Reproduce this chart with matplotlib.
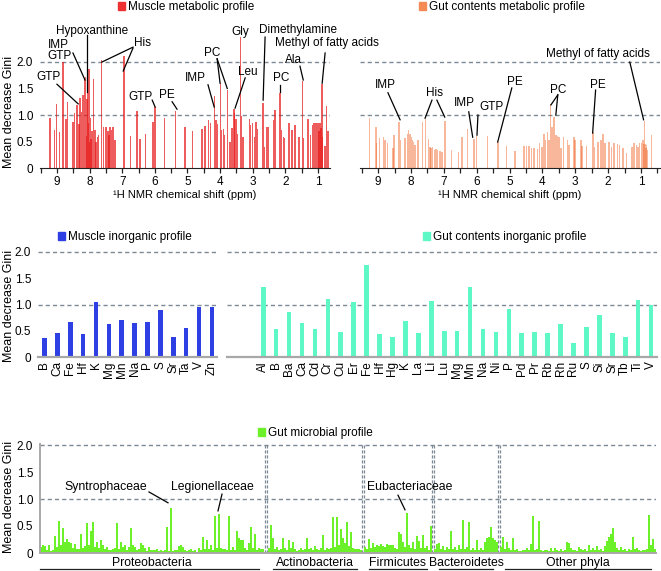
import numpy as np
import matplotlib
matplotlib.use('Agg')
from matplotlib import pyplot as plt
from matplotlib.patches import Patch
from matplotlib.ticker import MultipleLocator

plt.rcParams['font.family'] = ['Liberation Sans', 'DejaVu Sans']

W, H = 661, 571

# ---- 1H NMR metabolic profiles (chemical shift in ppm, mean decrease Gini) ----
muscle_ppm = [9.22, 9.07, 9.02, 8.92, 8.81, 8.73, 8.68, 8.51, 8.46, 8.38, 8.33, 8.30, 8.25,
              8.21, 8.18, 8.15, 8.12, 8.10, 8.08, 8.06, 8.04, 8.02, 8.00, 7.98, 7.95, 7.92,
              7.88, 7.84, 7.80, 7.76, 7.72, 7.64, 7.58, 7.50, 7.44, 7.40, 7.37, 7.33, 7.28, 7.22,
              6.95, 6.74, 6.54, 6.46, 6.28, 6.05, 6.00, 5.70, 5.36, 5.08,
              4.84, 4.56, 4.46, 4.36, 4.30, 4.17, 4.13, 4.08, 3.99, 3.95, 3.90, 3.86, 3.78, 3.70,
              3.64, 3.58, 3.55, 3.51, 3.46, 3.38, 3.35, 3.30,
              3.10, 3.06, 3.00, 2.95, 2.90, 2.86, 2.68, 2.64, 2.56, 2.52, 2.36, 2.32, 2.16, 2.12,
              2.06, 2.02, 1.88, 1.80, 1.70, 1.58, 1.47, 1.45, 1.30, 1.22, 1.17, 1.12, 1.08, 1.04,
              1.00, 0.97, 0.94, 0.91, 0.88, 0.86, 0.78, 0.73, 0.69]
muscle_gini = [0.94, 0.72, 1.21, 0.67, 2.00, 0.92, 1.25, 0.87, 1.03, 1.19, 0.83, 1.33, 1.05,
               1.37, 1.38, 1.70, 1.72, 0.60, 1.30, 1.94, 0.85, 1.86, 0.50, 0.95, 0.55, 0.70,
               1.67, 0.72, 0.50, 0.59, 0.62, 2.03, 0.78, 0.78, 0.69, 0.62, 0.78, 0.72, 0.78, 0.53,
               2.11, 0.60, 1.08, 0.54, 0.65, 0.87, 1.16, 0.94, 1.08, 0.77,
               0.70, 0.73, 0.79, 0.91, 0.84, 1.35, 0.91, 0.83, 1.60, 0.72, 0.73, 0.62, 1.48, 0.50,
               0.75, 1.11, 1.03, 0.92, 0.65, 2.47, 0.99, 0.59,
               0.92, 0.81, 0.84, 0.59, 0.87, 0.73, 1.23, 0.40, 0.78, 0.77, 0.91, 1.09, 1.41, 0.72,
               0.59, 0.56, 0.84, 0.72, 0.81, 0.59, 1.64, 0.56, 0.92, 0.63, 0.81, 0.84, 0.84, 0.84,
               0.85, 0.70, 0.85, 0.75, 1.58, 0.59, 0.42, 1.17, 0.69]

gut_ppm = [9.26, 9.07, 9.04, 8.95, 8.84, 8.79, 8.71, 8.54, 8.51, 8.36, 8.31, 8.20, 8.16, 8.11,
           8.08, 8.05, 8.02, 7.99, 7.96, 7.92, 7.88, 7.78, 7.64, 7.55, 7.47, 7.42, 7.39, 7.35,
           7.29, 7.24, 7.19, 7.12, 7.05, 6.97, 6.76, 6.56, 6.44, 6.28, 6.08, 6.00, 5.67, 5.35,
           5.09, 4.84, 4.56, 4.48, 4.41, 4.33, 4.25, 4.15, 4.08, 4.01, 3.95, 3.91, 3.84, 3.80,
           3.75, 3.71, 3.64, 3.59, 3.54, 3.49, 3.44, 3.36, 3.24, 3.19, 3.04, 3.00, 2.83, 2.79,
           2.66, 2.46, 2.41, 2.31, 2.22, 2.15, 2.10, 1.97, 1.90, 1.82, 1.72, 1.65, 1.55, 1.44,
           1.27, 1.21, 1.14, 1.09, 1.04, 0.99, 0.94, 0.92, 0.89, 0.87, 0.85, 0.83, 0.80, 0.68]
gut_gini = [0.95, 0.78, 0.48, 0.57, 0.58, 0.53, 0.48, 0.38, 0.63, 0.87, 0.53, 0.56, 0.57, 0.65,
            0.72, 0.65, 0.64, 0.59, 0.53, 0.50, 0.43, 0.53, 0.87, 0.92, 0.54, 0.39, 0.37, 0.39,
            0.34, 0.35, 0.34, 0.33, 0.31, 0.89, 0.34, 0.31, 0.58, 0.73, 0.55, 0.60, 0.60, 0.50,
            0.42, 0.33, 0.42, 0.42, 0.42, 0.37, 0.37, 0.35, 0.47, 0.39, 0.65, 0.53, 0.67, 0.53,
            1.20, 0.78, 0.96, 0.62, 0.60, 0.58, 0.37, 0.58, 0.53, 0.43, 0.58, 0.53, 0.53, 0.42,
            0.42, 0.67, 0.39, 0.50, 0.52, 0.65, 0.48, 0.50, 0.39, 0.48, 0.45, 0.43, 0.37, 0.28,
            0.39, 0.48, 0.43, 0.40, 0.47, 0.48, 0.53, 0.45, 0.89, 0.46, 0.37, 0.44, 0.34, 0.62]

# ---- inorganic profiles ----
muscle_elements = ['B', 'Ca', 'Fe', 'Hf', 'K', 'Mg', 'Mn', 'Na', 'P', 'S', 'Sr', 'Ta', 'V', 'Zn']
muscle_elem_gini = [0.36, 0.45, 0.67, 0.43, 1.04, 0.62, 0.71, 0.65, 0.66, 0.90, 0.39, 0.56, 0.95, 0.96]

gut_elements = ['Al', 'B', 'Ba', 'Ca', 'Cd', 'Cr', 'Cu', 'Er', 'Fe', 'Hf', 'Hg', 'K', 'La', 'Li',
                'Lu', 'Mg', 'Mn', 'Na', 'Ni', 'P', 'Pd', 'Pr', 'Rb', 'Rh', 'Ru', 'S', 'Si', 'Sr',
                'Tb', 'Ti', 'V']
gut_elem_gini = [1.34, 0.54, 0.86, 0.65, 0.53, 1.10, 0.48, 1.05, 1.76, 0.44, 0.38, 0.69, 0.46, 1.06,
                 0.49, 0.49, 1.33, 0.53, 0.48, 0.92, 0.46, 0.48, 0.46, 0.62, 0.27, 0.57, 0.80, 0.45,
                 0.38, 1.08, 0.99]

# ---- gut microbial profile (families grouped by phylum) ----
proteobacteria = [0.12, 0.14, 0.13, 0.05, 0.14, 0.04, 0.05, 0.31, 0.12, 0.59,
                  0.14, 0.46, 0.20, 0.26, 0.21, 0.18, 0.10, 0.16, 0.08, 0.07,
                  0.36, 0.10, 0.13, 0.55, 0.15, 0.41, 0.58, 0.12, 0.21, 0.10,
                  0.24, 0.15, 0.07, 0.12, 0.06, 0.05, 0.08, 0.10, 0.56, 0.08,
                  0.21, 0.12, 0.15, 0.06, 0.12, 0.46, 0.14, 0.12, 0.05, 0.08,
                  0.19, 0.15, 0.10, 0.04, 0.12, 0.06, 0.05, 0.06, 0.08, 0.04,
                  0.05, 0.03, 0.06, 0.48, 0.03, 0.83, 0.04, 0.06, 0.05, 0.13,
                  0.14, 0.12, 0.05, 0.03, 0.06, 0.07, 0.04, 0.06, 0.02, 0.10,
                  0.05, 0.30, 0.08, 0.24, 0.07, 0.15, 0.06, 0.69, 0.10, 0.72,
                  0.10, 0.07, 0.08, 0.06, 0.69, 0.05, 0.12, 0.05, 0.40, 0.27,
                  0.25, 0.24, 0.09, 0.05, 0.19, 0.49, 0.10, 0.36, 0.06, 0.09,
                  0.07, 0.07]
actinobacteria = [0.10, 0.52, 0.27, 0.08, 0.12, 0.05, 0.07, 0.27, 0.09, 0.05,
                  0.25, 0.10, 0.21, 0.07, 0.04, 0.06, 0.09, 0.05, 0.08, 0.27,
                  0.07, 0.09, 0.06, 0.13, 0.08, 0.05, 0.10, 0.33, 0.06, 0.09,
                  0.07, 0.10, 0.66, 0.12, 0.67, 0.15, 0.45, 0.27, 0.18, 0.57,
                  0.13, 0.38, 0.10, 0.07, 0.08, 0.07, 0.05]
firmicutes = [0.12, 0.08, 0.26, 0.10, 0.19, 0.12, 0.15, 0.13, 0.17, 0.13,
              0.11, 0.17, 0.14, 0.15, 0.15, 0.10, 0.08, 0.38, 0.36, 0.21,
              0.12, 0.75, 0.15, 0.10, 0.21, 0.08, 0.31, 0.22, 0.10, 0.33,
              0.09, 0.13, 0.06, 0.50]
bacteroidetes = [0.08, 0.17, 0.19, 0.07, 0.13, 0.06, 0.12, 0.08, 0.41, 0.07,
                 0.11, 0.06, 0.15, 0.08, 0.62, 0.07, 0.12, 0.57, 0.06, 0.09,
                 0.05, 0.24, 0.06, 0.09, 0.05, 0.21, 0.27, 0.30, 0.49, 0.27,
                 0.24, 0.21]
other_phyla = [0.12, 0.30, 0.08, 0.21, 0.09, 0.05, 0.27, 0.05, 0.07, 0.04,
               0.04, 0.05, 0.06, 0.10, 0.05, 0.17, 0.69, 0.06, 0.08, 0.60,
               0.06, 0.04, 0.05, 0.06, 0.03, 0.09, 0.04, 0.10, 0.06, 0.04,
               0.07, 0.03, 0.05, 0.20, 0.19, 0.10, 0.06, 0.06, 0.04, 0.12,
               0.08, 0.05, 0.07, 0.04, 0.15, 0.06, 0.09, 0.05, 0.13, 0.05,
               0.07, 0.04, 0.13, 0.23, 0.30, 0.36, 0.46, 0.20, 0.09, 0.05,
               0.12, 0.06, 0.07, 0.04, 0.07, 0.05, 0.30, 0.08, 0.09, 0.05,
               0.04, 0.06, 0.05, 0.08, 0.71, 0.15, 0.26, 0.07]
phyla = ['Proteobacteria', 'Actinobacteria', 'Firmicutes', 'Bacteroidetes', 'Other phyla']
phyla_values = [proteobacteria, actinobacteria, firmicutes, bacteroidetes, other_phyla]

# annotation labels (text, x, y) and leader lines ((x0, y0), (x1, y1)) in data units
muscle_labels = [('GTP', 9.27, 1.72), ('IMP', 8.97, 2.32), ('GTP', 8.91, 2.11),
                 ('Hypoxanthine', 7.92, 2.58), ('His', 6.39, 2.36), ('GTP', 6.45, 1.34),
                 ('PE', 5.62, 1.38), ('IMP', 4.77, 1.70), ('PC', 4.24, 2.17),
                 ('Leu', 3.14, 1.81), ('Gly', 3.39, 2.57), ('Dimethylamine', 1.60, 2.60),
                 ('Methyl of fatty acids', 0.72, 2.36), ('Ala', 1.76, 2.04), ('PC', 2.13, 1.70)]
muscle_leaders = [((9.00, 1.58), (8.35, 1.21)), ((8.51, 2.17), (8.14, 1.66)),
                  ((8.08, 2.51), (8.08, 1.43)), ((6.67, 2.28), (7.62, 2.00)),
                  ((6.67, 2.26), (6.97, 1.83)), ((6.08, 1.28), (5.99, 1.15)),
                  ((5.47, 1.25), (5.32, 1.11)), ((4.37, 1.57), (4.18, 1.15)),
                  ((4.09, 2.06), (4.00, 1.60)), ((4.09, 2.06), (3.78, 1.50)),
                  ((3.23, 1.70), (3.54, 1.13)), ((2.62, 2.47), (2.68, 1.28)),
                  ((0.78, 2.17), (0.87, 1.60)), ((1.55, 1.92), (1.45, 1.66)),
                  ((2.16, 1.57), (2.16, 1.43))]
gut_labels = [('IMP', 8.79, 1.57), ('His', 7.27, 1.42), ('IMP', 6.36, 1.23), ('GTP', 5.54, 1.15),
              ('PE', 4.84, 1.62), ('PC', 3.53, 1.47), ('PE', 2.32, 1.57),
              ('Methyl of fatty acids', 2.32, 2.15)]
gut_leaders = [((8.70, 1.42), (8.33, 0.91)), ((7.36, 1.28), (7.57, 0.94)),
               ((7.21, 1.28), (6.97, 0.96)), ((6.24, 1.06), (6.12, 0.58)),
               ((5.96, 1.00), (5.99, 0.62)), ((4.93, 1.51), (5.36, 0.49)),
               ((3.53, 1.38), (3.74, 1.19)), ((3.53, 1.38), (3.59, 1.00)),
               ((2.38, 1.47), (2.47, 0.66)), ((1.34, 2.00), (0.92, 0.91))]
microbe_labels = [('Syntrophaceae', 32.5, 1.22), ('Legionellaceae', 85.5, 1.22),
                  ('Eubacteriaceae', 184.5, 1.22)]
microbe_leaders = [((54, 1.13), (63.5, 0.93)), ((90.5, 1.09), (88.5, 0.78)),
                   ((178.5, 1.07), (182, 0.80))]

GRID = '#7D8A96'
DASH = (0, (3, 2.2))
FS = 8.5


def px_rect(left, top, right, bottom):
    return [left / W, 1 - bottom / H, (right - left) / W, (bottom - top) / H]


def gini_guides(ax):
    for lvl in (1.0, 2.0):
        ax.axhline(lvl, color=GRID, ls=DASH, lw=1, zorder=0)


def gini_yaxis(ax):
    ax.set_yticks([0, 0.5, 1.0, 1.5, 2.0])
    ax.set_yticklabels(['0', '0.5', '1.0', '1.5', '2.0'])
    ax.tick_params(axis='y', length=0, pad=5, labelsize=8.5)


def annotate(ax, labels, leaders, fs=FS):
    for text, x, y in labels:
        ax.text(x, y, text, ha='center', va='center', fontsize=fs, clip_on=False)
    for (x0, y0), (x1, y1) in leaders:
        ax.plot([x0, x1], [y0, y1], color='black', lw=0.9, clip_on=False)


def legend(fig, color, text, cx, cy):
    fig.legend(handles=[Patch(color=color)], labels=[text], loc='center',
               bbox_to_anchor=(cx / W, 1 - cy / H), frameon=False, fontsize=FS,
               handlelength=0.6, handleheight=0.6, handletextpad=0.25,
               borderpad=0, borderaxespad=0)


def metabolic_panel(fig, rect, ppm, gini, color, alpha, xlim, show_y):
    ax = fig.add_axes(rect)
    ax.patch.set_alpha(0)
    ax.bar(ppm, gini, width=0.045, color=color, alpha=alpha, linewidth=0, zorder=2)
    gini_guides(ax)
    ax.set_xlim(*xlim)
    ax.set_ylim(0, 2.7)
    for side in ('top', 'right', 'left'):
        ax.spines[side].set_visible(False)
    ax.spines['bottom'].set_color('#222222')
    ax.xaxis.set_major_locator(MultipleLocator(1))
    ax.xaxis.set_minor_locator(MultipleLocator(0.5))
    ax.tick_params(axis='x', which='both', length=3.5, width=0.9, color='#222222',
                   labelsize=8.5, pad=2)
    ax.set_xlabel('¹H NMR chemical shift (ppm)', fontsize=8, labelpad=2)
    if show_y:
        gini_yaxis(ax)
    else:
        ax.set_yticks([])
    return ax


def element_panel(fig, rect, names, gini, color, xlim, show_y):
    ax = fig.add_axes(rect)
    ax.patch.set_alpha(0)
    x = np.arange(len(names))
    ax.bar(x, gini, width=0.36, color=color, linewidth=0, zorder=2)
    gini_guides(ax)
    ax.set_xlim(*xlim)
    ax.set_ylim(0, 2.13)
    for side in ('top', 'right', 'left'):
        ax.spines[side].set_visible(False)
    ax.spines['bottom'].set_color('#A8A8A8')
    ax.spines['bottom'].set_linewidth(1.6)
    ax.set_xticks(x)
    ax.set_xticklabels(names, rotation=90, fontsize=8.5)
    ax.tick_params(axis='x', length=0, pad=3)
    if show_y:
        gini_yaxis(ax)
    else:
        ax.set_yticks([])
    return ax


fig = plt.figure(figsize=(W / 100, H / 100), dpi=100)

# top row: NMR metabolic profiles (gut panel drawn first so muscle labels stay on top)
top_a = 168 - 2.7 * 53
ax2 = metabolic_panel(fig, px_rect(360, top_a, 660, 168), gut_ppm, gut_gini,
                      '#F06020', 0.45, (9.55, 0.42), False)
annotate(ax2, gut_labels, gut_leaders)
ax1 = metabolic_panel(fig, px_rect(40, top_a, 330, 168), muscle_ppm, muscle_gini,
                      '#E81818', 0.7, (9.52, 0.63), True)
annotate(ax1, muscle_labels, muscle_leaders)

# middle row: inorganic profiles
top_c = 357 - 2.13 * 52.5
ax3 = element_panel(fig, px_rect(38, top_c, 217, 357), muscle_elements, muscle_elem_gini,
                    '#2E3FE3', (-0.5, 13.4), True)
ax4 = element_panel(fig, px_rect(227, top_c, 657, 357), gut_elements, gut_elem_gini,
                    '#5EF8C6', (-2.8, 30.46), False)

# bottom row: gut microbial profile
ax5 = fig.add_axes(px_rect(40, 553 - 2.02 * 54, 656, 553))
gaps = [2, 1, 1, 1]
pos = 0
spans = []
seps = []
for k, vals in enumerate(phyla_values):
    if k > 0:
        prev_end = pos - 1
        pos += gaps[k - 1]
        seps.append((prev_end + pos) / 2)
    xs = np.arange(pos, pos + len(vals))
    ax5.bar(xs, vals, width=0.85, color='#6BF02A', linewidth=0, zorder=2)
    spans.append((xs[0], xs[-1]))
    pos += len(vals)
gini_guides(ax5)
for s in seps:
    for off in (-0.55, 0.55):
        ax5.plot([s + off, s + off], [0, 2.0], color=GRID, ls=(0, (2.5, 1.5)), lw=0.9, zorder=1)
ax5.set_xlim(-0.5, 307.5)
ax5.set_ylim(0, 2.02)
for side in ('top', 'right'):
    ax5.spines[side].set_visible(False)
for side in ('left', 'bottom'):
    ax5.spines[side].set_color('#A8A8A8')
    ax5.spines[side].set_linewidth(1.4)
ax5.set_xticks([])
gini_yaxis(ax5)
annotate(ax5, microbe_labels, microbe_leaders, fs=8.8)

# phylum names with underlines
for name, (first, last) in zip(phyla, spans):
    start = -0.5 if first == 0 else first + 2
    ax5.text((first + last) / 2, -0.18, name, ha='center', va='center', fontsize=8.8,
             clip_on=False)
    ax5.plot([start, last - 2], [-0.29, -0.29], color='#222222', lw=0.9, clip_on=False)

# y axis titles
for cy in (112, 306, 497):
    fig.text(9 / W, 1 - cy / H, 'Mean decrease Gini', rotation=90, ha='center',
             va='center', fontsize=9)

# legends
legend(fig, '#EE3030', 'Muscle metabolic profile', 186, 7)
legend(fig, '#F58A55', 'Gut contents metabolic profile', 502, 7)
legend(fig, '#2E3FE3', 'Muscle inorganic profile', 125, 237)
legend(fig, '#5EF8C6', 'Gut contents inorganic profile', 505, 237)
legend(fig, '#6BF02A', 'Gut microbial profile', 315, 433)

fig.savefig('out.png', dpi=100)
